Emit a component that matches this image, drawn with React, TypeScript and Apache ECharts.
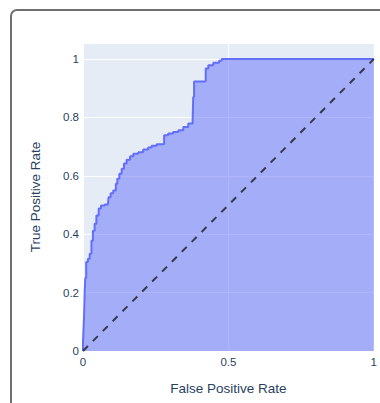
import React, { useEffect, useRef } from "react";
import * as echarts from "echarts";

const fpr = [0, 0, 0.002, 0.004, 0.006, 0.008, 0.011, 0.017, 0.023, 0.029, 0.034, 0.04, 0.046, 0.054, 0.062, 0.075, 0.086, 0.088, 0.095, 0.104, 0.113, 0.118, 0.125, 0.133, 0.141, 0.15, 0.162, 0.173, 0.19, 0.207, 0.224, 0.236, 0.253, 0.276, 0.279, 0.293, 0.31, 0.328, 0.345, 0.362, 0.377, 0.379, 0.382, 0.419, 0.422, 0.431, 0.448, 0.468, 0.477, 1];
const tpr = [0, 0.03, 0.08, 0.13, 0.21, 0.25, 0.305, 0.316, 0.333, 0.378, 0.412, 0.436, 0.464, 0.488, 0.498, 0.502, 0.505, 0.527, 0.54, 0.55, 0.573, 0.59, 0.607, 0.624, 0.642, 0.655, 0.667, 0.676, 0.681, 0.69, 0.697, 0.703, 0.708, 0.71, 0.739, 0.745, 0.75, 0.756, 0.767, 0.779, 0.79, 0.87, 0.923, 0.925, 0.968, 0.979, 0.987, 0.994, 1, 1];
const diagonalX = [0, 1];
const diagonalY = [0, 1];
const xTickLabels = ["0", "0.5", "1"];
const yTickLabels = ["0", "0.2", "0.4", "0.6", "0.8", "1"];

const FONT = "'Liberation Sans', Arial, sans-serif";
const TEXT = "#2a3f5f";

export default function App() {
  const ref = useRef<HTMLDivElement>(null);
  useEffect(() => {
    if (!ref.current) return;
    const chart = echarts.init(ref.current, undefined, { renderer: "svg" });
    const fmt = (labels: string[]) => (v: number) => {
      const s = String(Math.round(v * 1000) / 1000);
      return labels.includes(s) ? s : "";
    };
    chart.setOption({
      animation: false,
      graphic: [
        {
          type: "rect",
          shape: { x: 11, y: 10, width: 420, height: 430, r: 6 },
          style: { fill: "none", stroke: "#6e6e6e", lineWidth: 2 },
          silent: true,
        },
      ],
      grid: {
        left: 83,
        top: 43,
        right: 5,
        bottom: 52,
        show: true,
        backgroundColor: "#E5ECF6",
        borderWidth: 0,
      },
      xAxis: {
        type: "value",
        min: 0,
        max: 1,
        interval: 0.5,
        name: "False Positive Rate",
        nameLocation: "middle",
        nameGap: 30,
        nameTextStyle: { color: TEXT, fontSize: 13.5, fontFamily: FONT },
        axisLine: { show: false },
        axisTick: { show: false },
        axisLabel: { color: TEXT, fontSize: 11.5, fontFamily: FONT, margin: 5, formatter: fmt(xTickLabels) },
        splitLine: { show: true, lineStyle: { color: "#ffffff", width: 1 } },
      },
      yAxis: {
        type: "value",
        min: 0,
        max: 1.055,
        interval: 0.2,
        name: "True Positive Rate",
        nameLocation: "middle",
        nameGap: 41,
        nameTextStyle: { color: TEXT, fontSize: 13.5, fontFamily: FONT },
        axisLine: { show: false },
        axisTick: { show: false },
        axisLabel: { color: TEXT, fontSize: 11.5, fontFamily: FONT, margin: 4, formatter: fmt(yTickLabels) },
        splitLine: { show: true, lineStyle: { color: "#ffffff", width: 1 } },
      },
      series: [
        {
          type: "line",
          data: fpr.map((x, i) => [x, tpr[i]]),
          symbol: "none",
          step: "end",
          lineStyle: { color: "#636efa", width: 2 },
          areaStyle: { color: "rgba(99,110,250,0.5)", opacity: 1, origin: "start" },
          z: 2,
        },
        {
          type: "line",
          data: diagonalX.map((x, i) => [x, diagonalY[i]]),
          symbol: "none",
          lineStyle: { color: "#333a48", width: 2, type: [7, 7] },
          z: 3,
        },
      ],
    });
    return () => chart.dispose();
  }, []);
  return (
    <div
      ref={ref}
      style={{ position: "fixed", left: 0, top: 0, width: 380, height: 403, background: "#fff" }}
    />
  );
}
